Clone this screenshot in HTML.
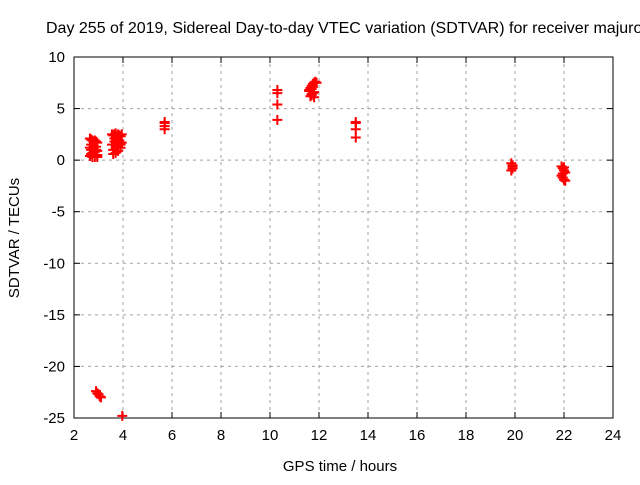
<!DOCTYPE html>
<html><head><meta charset="utf-8"><style>
body{margin:0;background:#fff;}
svg text{font-family:"Liberation Sans",sans-serif;font-size:15px;fill:#000;}
</style></head><body>
<svg id="chart" width="640" height="480" xmlns="http://www.w3.org/2000/svg">
<rect width="640" height="480" fill="#fff"/>
<g id="grid"></g><g id="axes"></g><g id="pts"></g>
<text x="46" y="33" style="font-size:16px">Day 255 of 2019, Sidereal Day-to-day VTEC variation (SDTVAR) for receiver majuro</text>
<text x="340" y="471" text-anchor="middle">GPS time / hours</text>
<text transform="translate(19,238) rotate(-90)" text-anchor="middle">SDTVAR / TECUs</text>
</svg>
<script>
const xTicks=[2,4,6,8,10,12,14,16,18,20,22,24];
const yTicks=[10,5,0,-5,-10,-15,-20,-25];
const times=[2.65,2.7,2.75,2.8,2.85,2.9,2.95,2.65,2.7,2.8,2.9,2.95,2.7,2.75,2.85,2.95,2.65,2.75,2.85,2.95,2.7,2.8,2.9,
3.55,3.6,3.65,3.7,3.75,3.8,3.85,3.9,3.95,3.55,3.65,3.75,3.85,3.95,3.6,3.7,3.8,3.9,3.6,3.7,3.8,3.9,3.65,3.75,
2.9,2.95,3.0,3.05,3.1,3.97,
5.7,5.7,5.7,5.7,
10.3,10.3,10.3,10.3,
11.6,11.65,11.7,11.75,11.8,11.85,11.9,11.65,11.7,11.75,11.8,11.7,11.75,11.6,11.7,11.8,
13.5,13.5,13.5,13.5,
19.85,19.9,19.9,19.85,19.9,
21.9,21.95,22.0,22.05,21.9,21.95,22.0,22.05,21.95,22.0];
const values=[2.1,2.0,1.9,1.8,1.9,1.8,1.7,1.2,1.0,1.1,1.0,0.9,0.6,0.7,0.8,0.5,0.4,0.3,0.3,0.3,1.5,1.4,1.3,
2.5,2.4,2.5,2.6,2.3,2.5,2.4,2.3,2.5,1.5,1.8,2.0,1.9,1.7,1.0,1.2,1.4,1.5,0.6,0.7,0.9,1.2,2.1,1.6,
-22.4,-22.6,-22.7,-22.9,-23.0,-24.8,
3.0,3.3,3.6,3.7,
3.9,5.4,6.5,6.8,
6.8,7.0,7.2,7.4,7.5,7.6,7.5,6.2,6.4,6.5,6.6,6.9,7.1,6.7,6.3,6.1,
2.2,3.0,3.6,3.7,
-1.0,-0.8,-0.5,-0.3,-0.6,
-0.6,-0.8,-1.0,-1.2,-1.5,-1.7,-1.9,-2.0,-1.3,-0.7];
const L=74,R=613,T=57,B=418;
const xs=v=>L+(v-2)/22*(R-L), ys=v=>T+(10-v)/35*(B-T);
const NS="http://www.w3.org/2000/svg";
function mk(p,t,a){const e=document.createElementNS(NS,t);for(const k in a)e.setAttribute(k,a[k]);p.appendChild(e);return e;}
const g=document.getElementById('grid'),ax=document.getElementById('axes'),pts=document.getElementById('pts');
xTicks.forEach(t=>{const x=xs(t);
 if(t>2&&t<24){const l=mk(g,'line',{x1:x,x2:x,y1:T,y2:B,stroke:'#a0a0a0','stroke-dasharray':'3,4'});
 
 }
 mk(ax,'line',{x1:x,x2:x,y1:B,y2:B-6,stroke:'#000'});mk(ax,'line',{x1:x,x2:x,y1:T,y2:T+6,stroke:'#000'});
 const tx=mk(ax,'text',{x:x,y:B+22,'text-anchor':'middle'});tx.textContent=t;
 
 });
yTicks.forEach(t=>{const y=ys(t);
 if(t<10&&t>-25){const l=mk(g,'line',{x1:L,x2:R,y1:y,y2:y,stroke:'#a0a0a0','stroke-dasharray':'3,4'});
 
 }
 mk(ax,'line',{x1:L,x2:L+6,y1:y,y2:y,stroke:'#000'});mk(ax,'line',{x1:R,x2:R-6,y1:y,y2:y,stroke:'#000'});
 const tx=mk(ax,'text',{x:L-9,y:y+5,'text-anchor':'end'});tx.textContent=t;
 
 });
const fr=mk(ax,'rect',{x:L,y:T,width:R-L,height:B-T,fill:'none',stroke:'#000'});


times.forEach((t,i)=>{const x=xs(t),y=ys(values[i]);
 const p=mk(pts,'path',{d:`M${x-5},${y}H${x+5}M${x},${y-5}V${y+5}`,stroke:'#f00','stroke-width':2,fill:'none'});
 
 });
</script>
</body></html>
